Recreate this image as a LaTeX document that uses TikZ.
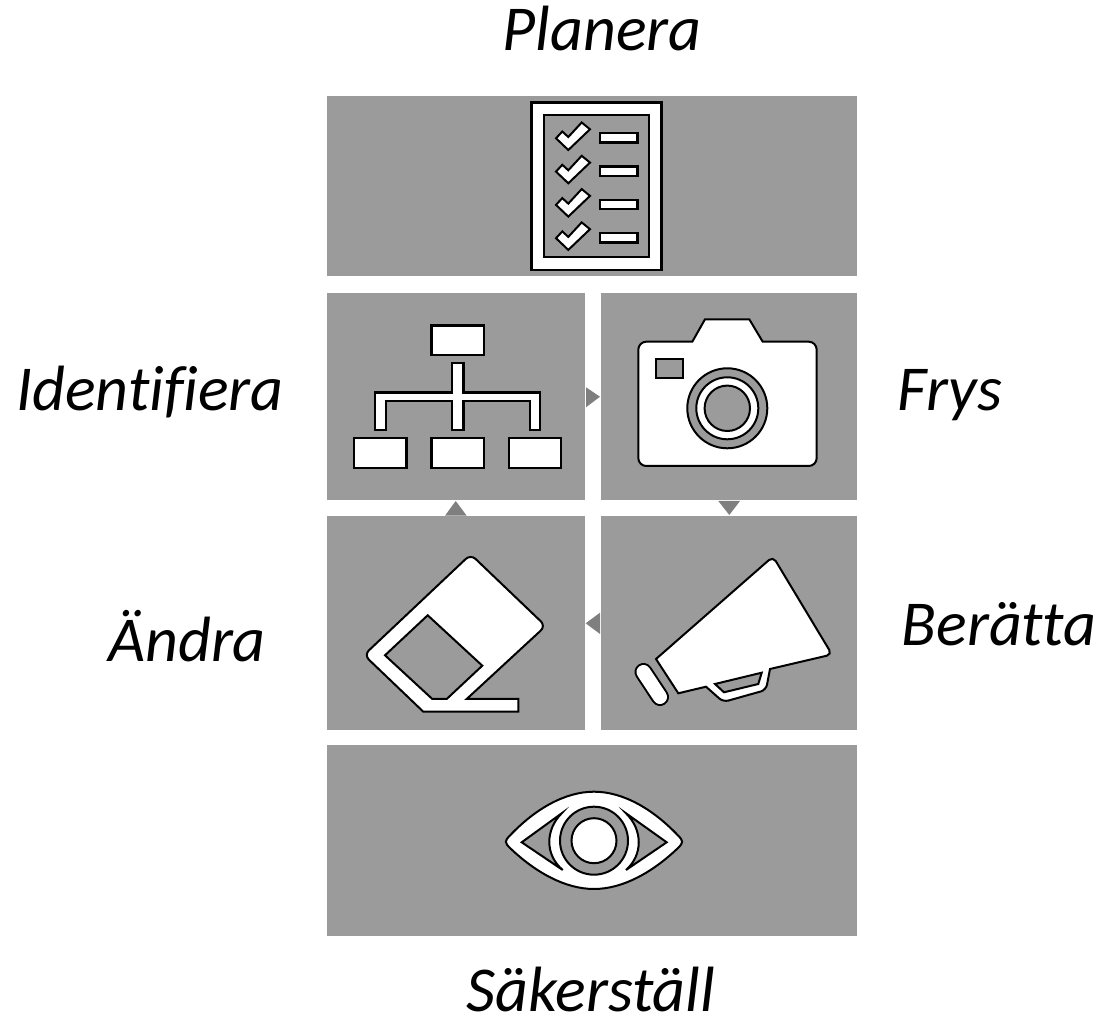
\documentclass[tikz,border=0pt]{standalone}
\usepackage{fontspec}
\setmainfont[Ligatures=CommonOff]{Carlito}
\begin{document}
\begin{tikzpicture}[x=0.75pt,y=-0.75pt,
  panel/.style={fill=panelgray,draw=none,inner sep=0pt,outer sep=0pt},
  label/.style={font=\fontsize{48}{56}\selectfont\itshape,anchor=base,inner sep=0pt,text=black},
  icon/.style={draw=black,fill=white,line width=1.5pt,line join=miter},
  hole/.style={draw=black,fill=panelgray,line width=1.5pt},
  tri/.style={fill=trigray,draw=none}]
\definecolor{panelgray}{HTML}{9B9B9B}
\definecolor{trigray}{HTML}{7F7F7F}
\useasboundingbox (0,0) rectangle (1101,1019);
% panels
\node[panel,minimum width=397.5pt,minimum height=135pt] (ptop) at (592,186) {};
\node[panel,minimum width=193.5pt,minimum height=155.25pt] (pid) at (456,396.5) {};
\node[panel,minimum width=192pt,minimum height=155.25pt] (pfr) at (729,396.5) {};
\node[panel,minimum width=193.5pt,minimum height=160.5pt] (pan) at (456,623) {};
\node[panel,minimum width=192pt,minimum height=160.5pt] (pbe) at (729,623) {};
\node[panel,minimum width=397.5pt,minimum height=143.25pt] (pbo) at (592,840.5) {};
% triangles
\fill[tri] (586,387.3) -- (600,396.7) -- (586,407.3) -- cycle;
\fill[tri] (718.3,501) -- (740,501) -- (729.3,515) -- cycle;
\fill[tri] (600,612.7) -- (585.7,623.3) -- (600,634) -- cycle;
\fill[tri] (445,515.7) -- (455.7,501) -- (466.7,515.7) -- cycle;
% checklist
\draw[icon,line width=2pt] (531.7,102.7) rectangle (661.7,270);
\draw[hole,line width=2pt] (544,115) rectangle (649,257);
\foreach \d in {0,33.3,66.6,99.9}{
  \begin{scope}[yshift=-0.75pt*\d]
  \draw[icon] (556,138.3) -- (562.3,131.5) -- (568.3,137) -- (581.7,122.5) -- (590,129.3) -- (568.3,150) -- cycle;
  \draw[icon,line width=1.8pt] (600,133.3) rectangle (637.3,142.7);
  \end{scope}
}
% org chart
\draw[icon,line width=1.8pt] (431.3,325.7) rectangle (483.7,355.3);
\draw[icon,line width=1.8pt] (354,438.3) rectangle (406.3,468);
\draw[icon,line width=1.8pt] (431.3,438.3) rectangle (483.7,468);
\draw[icon,line width=1.8pt] (508.7,438.3) rectangle (561,468);
\draw[icon,line width=1.8pt] (452,363.3) -- (463.3,363.3) -- (463.3,392.7) -- (540,392.7) -- (540,430) -- (529.7,430) -- (529.7,401) -- (463.3,401) -- (463.3,430) -- (452,430) -- (452,401) -- (385.7,401) -- (385.7,430) -- (375,430) -- (375,392.7) -- (452,392.7) -- cycle;
% camera
\draw[icon] (692.3,341.7) -- (705,319.3) -- (749.3,319.3) -- (762.7,341.7)
  [rounded corners=6pt] -- (816.7,341.7) -- (816.7,466) -- (638.3,466) -- (638.3,341.7) [sharp corners] -- cycle;
\draw[hole] (655.7,359) rectangle (683.3,377.7);
\draw[hole] (727.3,408.3) circle[radius=40];
\draw[icon] (727.3,408.3) circle[radius=31];
\draw[hole] (727.3,408.3) circle[radius=22.7];
% eraser
\draw[icon] (466.7,699) -- (518.3,699) -- (518.3,711.7) -- (423.3,711.7)
  [rounded corners=5pt] -- (364,655) -- (470.7,554.3) -- (545.7,626) [sharp corners] -- cycle;
\draw[hole] (427.7,615.3) -- (482.3,665.7) -- (446.7,699) -- (432.3,699) -- (385,655.3) -- cycle;
% megaphone
\draw[icon] (656,659) [rounded corners=4pt] -- (773,556.5) -- (832,654.5) [sharp corners] -- (770,669)
  [rounded corners=4pt] -- (766,690) -- (723.3,702) [sharp corners] -- (706,686.7) -- (678.3,693.3) -- cycle;
\draw[hole] (715,684) -- (761.7,672.7) -- (758.3,684) -- (724,692.3) -- cycle;
\draw[draw=black,line width=1.5pt,double=white,double distance=10.5pt,line cap=round] (643.5,672) -- (660,697);
% eye
\draw[icon] (510,835.5) .. controls (535,809) and (565,791.7) .. (594,791.7)
  .. controls (623,791.7) and (653,809) .. (678,835.5)
  .. controls (683.5,841) and (683.5,842.5) .. (678,848)
  .. controls (653,872) and (623,889) .. (594,889)
  .. controls (565,889) and (535,872) .. (510,848)
  .. controls (504.5,842.5) and (504.5,841) .. (510,835.5) -- cycle;
\draw[hole] (521.7,842.3) -- (561.7,813.3) .. controls (545,830) and (545,855) .. (562.7,870) -- cycle;
\draw[hole] (666.7,842.3) -- (626,813.3) .. controls (643,830) and (643,855) .. (626,870) -- cycle;
\draw[hole] (594,840.7) circle[radius=34];
\draw[icon] (594,840.7) circle[radius=22.5];
% labels
\node[label] (lpl) at (602,51) {Planera};
\node[label] (lid) at (150,411) {Identifiera};
\node[label] (lfr) at (950,411) {Frys};
\node[label] (lan) at (187,662) {Ändra};
\node[label] (lbe) at (999,646) {Berätta};
\node[label] (lsa) at (591,1011) {Säkerställ};
\end{tikzpicture}
\end{document}
